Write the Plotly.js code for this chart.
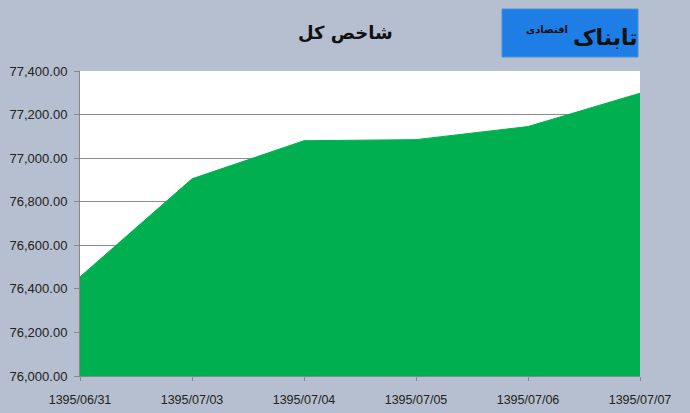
<!DOCTYPE html>
<html><head><meta charset="utf-8">
<script src="https://cdn.plot.ly/plotly-3.0.1.min.js"></script>
<style>html,body{margin:0;padding:0;background:#b5bfcf;}#chart{width:690px;height:413px;}</style>
</head><body><div id="chart"></div>
<script>
const dates = ["1395/06/31","1395/07/03","1395/07/04","1395/07/05","1395/07/06","1395/07/07"];
const indexValues = [76455, 76905, 77080, 77085, 77145, 77298];
const yTicks = [76000,76200,76400,76600,76800,77000,77200,77400];
const chartTitle = "شاخص کل";
const logoMain = "تابناک";
const logoSub = "اقتصادی";

const trace = {
  x: dates, y: indexValues, type: "scatter", mode: "lines",
  fill: "tozeroy", fillcolor: "#00b050", line: {color: "#00b050", width: 1},
  hoverinfo: "skip"
};
const layout = {
  width: 690, height: 413,
  paper_bgcolor: "#b5bfcf", plot_bgcolor: "#ffffff",
  margin: {l: 80, r: 50, t: 71, b: 37},
  showlegend: false,
  xaxis: {type: "category", range: [0, 5], showgrid: false, ticks: "outside", ticklen: 4,
    tickcolor: "#888", showline: true, linecolor: "#888", linewidth: 1, ticklabelstandoff: 8,
    tickfont: {family: "Liberation Sans, Arial", size: 12.5, color: "#222"}, fixedrange: true},
  yaxis: {range: [76000, 77400], tickvals: yTicks,
    ticktext: yTicks.map(v => v.toLocaleString("en-US", {minimumFractionDigits: 2})),
    tickmode: "array", showgrid: true, gridcolor: "#8c8c8c", gridwidth: 1,
    ticks: "outside", ticklen: 5, tickcolor: "#888", showline: true, linecolor: "#888",
    ticklabelstandoff: 4,
    zeroline: false, tickfont: {family: "Liberation Sans, Arial", size: 13, color: "#222"}, fixedrange: true},
  shapes: [
    {type: "rect", xref: "paper", yref: "paper", x0: (502-80)/560, x1: (638-80)/560, y0: 1 + (71-57)/305, y1: 1 + (71-9)/305, line: {color: "#4a90d9", width: 1}, fillcolor: "#1f7ee6"}
  ],
  annotations: [
    {text: "<b>" + chartTitle + "</b>", xref: "paper", yref: "paper", x: (345-80)/560, y: 1 + (71-33)/305,
      showarrow: false, font: {family: "DejaVu Sans", size: 18, color: "#111"}, xanchor: "center", yanchor: "middle"},
    {text: "<b>" + logoMain + "</b>", xref: "paper", yref: "paper", x: (605-80)/560, y: 1 + (71-37)/305,
      showarrow: false, font: {family: "DejaVu Sans", size: 22, color: "#111"}, xanchor: "center", yanchor: "middle"},
    {text: "<b>" + logoSub + "</b>", xref: "paper", yref: "paper", x: (547-80)/560, y: 1 + (71-30)/305,
      showarrow: false, font: {family: "DejaVu Sans", size: 10, color: "#111"}, xanchor: "center", yanchor: "middle"}
  ]
};
Plotly.newPlot("chart", [trace], layout, {displayModeBar: false, staticPlot: true});
</script></body></html>
